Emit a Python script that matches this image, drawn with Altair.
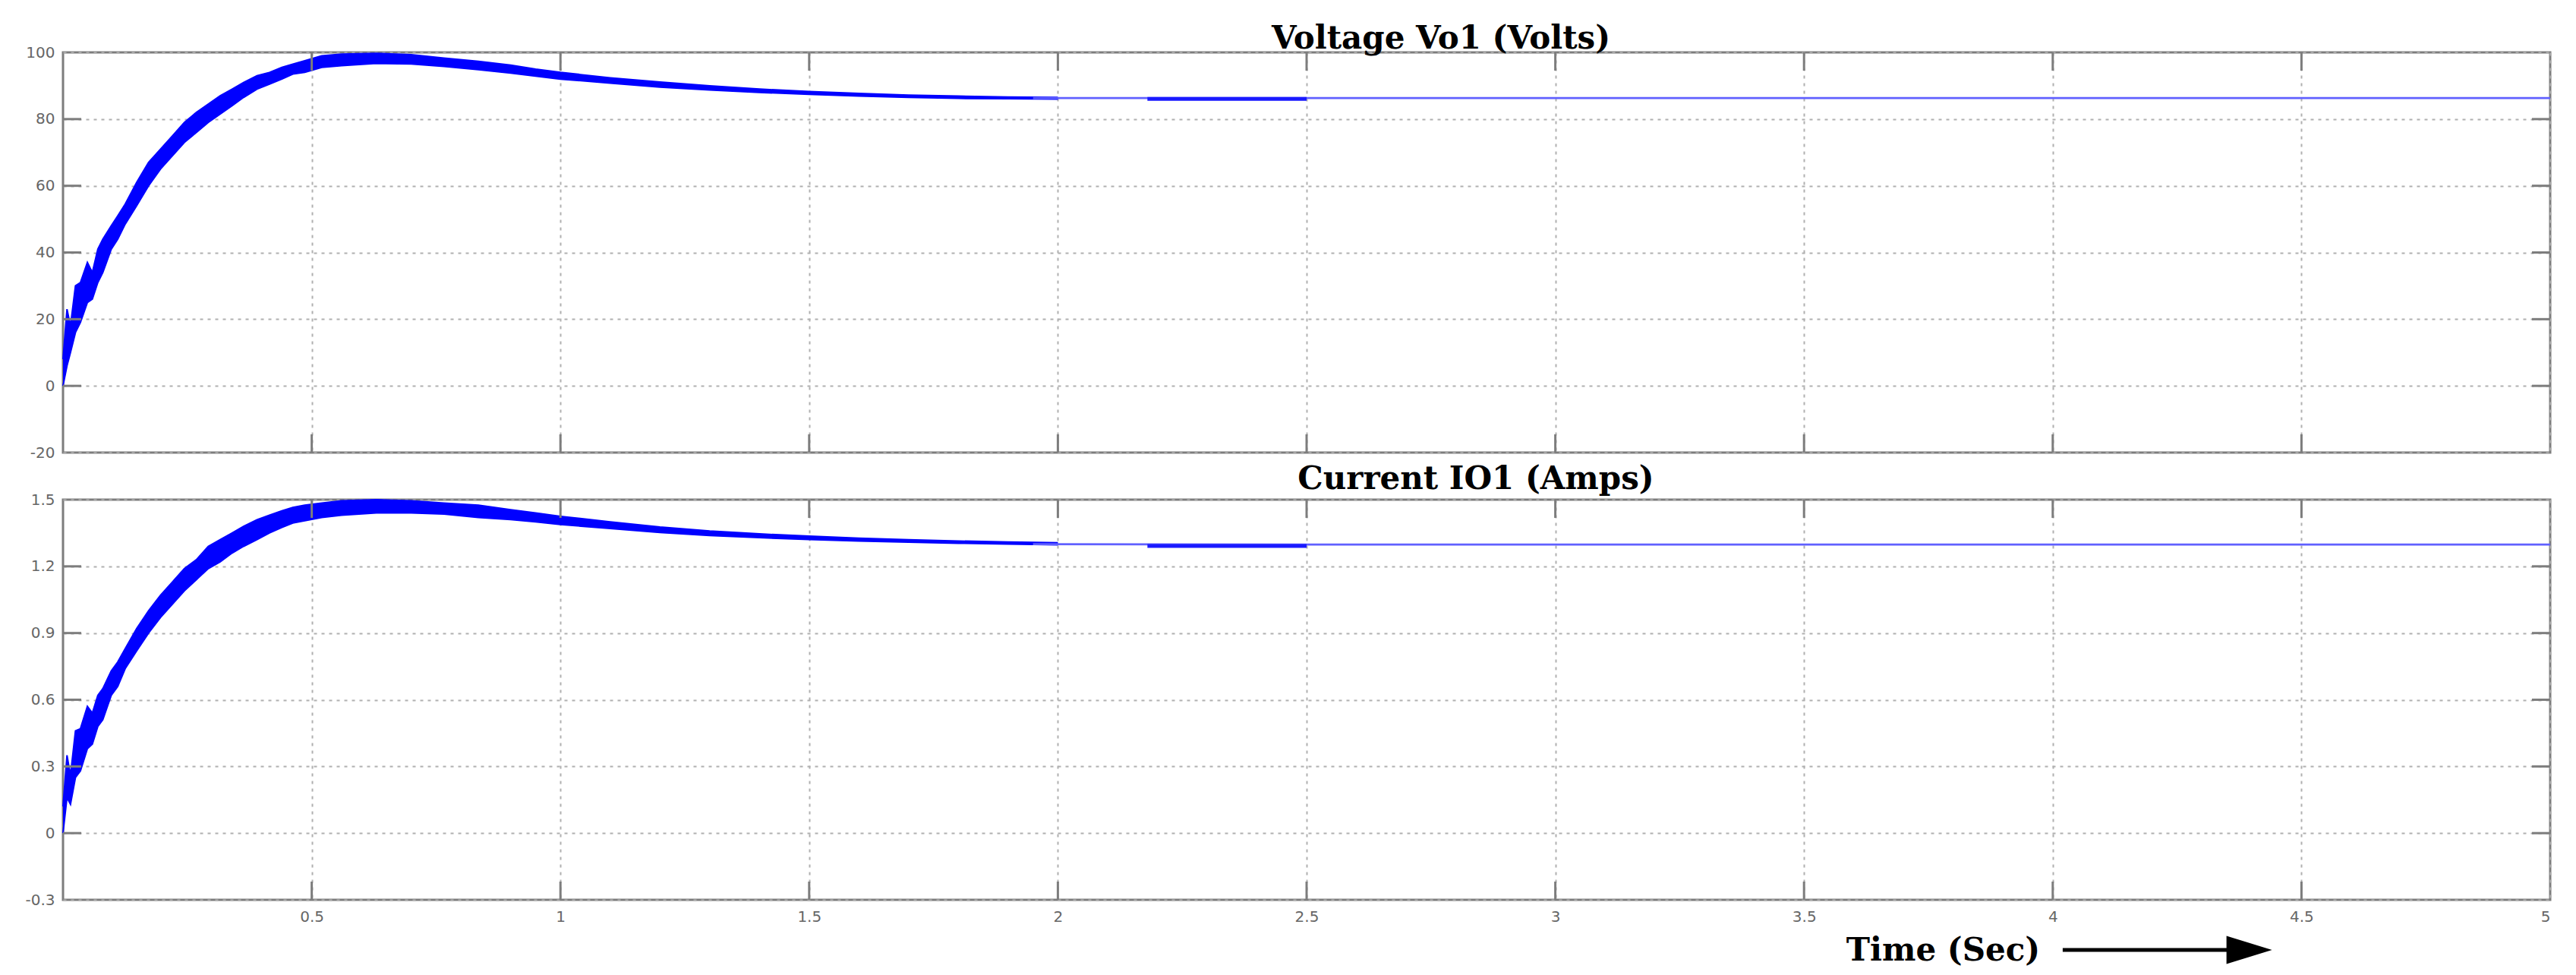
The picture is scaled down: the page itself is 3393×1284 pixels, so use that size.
import altair as alt
import pandas as pd

# ---------------- data ----------------
title_v = "Voltage Vo1 (Volts)"
title_i = "Current IO1 (Amps)"
x_title = "Time (Sec)"

# envelope of the rippled waveform (time in s)
t_band = [0.000, 0.008, 0.015, 0.025, 0.035, 0.049, 0.059, 0.070, 0.080, 0.097,
          0.110, 0.125, 0.148, 0.172, 0.196, 0.220, 0.244, 0.268, 0.292, 0.316,
          0.340, 0.363, 0.390, 0.415, 0.440, 0.462, 0.486, 0.520, 0.560, 0.630,
          0.700, 0.766, 0.835, 0.900, 0.950, 1.000, 1.100, 1.200, 1.300, 1.400,
          1.500, 1.600, 1.700, 1.800, 1.900, 2.000]
v_lo = [0, 6, 10, 16, 19, 25, 26, 31, 34, 41,
        44, 48.5, 54, 60, 65, 69, 73, 76, 79, 81.5,
        84, 86.5, 89, 90.5, 92, 93.5, 94, 95.5, 96, 96.7,
        96.5, 95.8, 94.8, 93.8, 92.9, 92.0, 90.8, 89.6, 88.7, 88.0,
        87.4, 86.9, 86.5, 86.2, 86.1, 86.0]
v_hi = [8, 23, 18, 30, 31, 37, 34, 41, 44, 48,
        51, 54.5, 61, 67, 71, 75, 79, 82, 84.5, 87,
        89, 91, 93, 94, 95.5, 96.5, 97.5, 99, 99.5, 99.7,
        99.3, 98.3, 97.3, 96.2, 95, 94, 92.4, 91.1, 90.0, 89.0,
        88.3, 87.7, 87.2, 86.9, 86.6, 86.5]
i_lo = [0.00, 0.16, 0.13, 0.25, 0.28, 0.38, 0.40, 0.48, 0.51, 0.62,
        0.66, 0.74, 0.82, 0.90, 0.97, 1.03, 1.09, 1.14, 1.19, 1.22,
        1.26, 1.29, 1.32, 1.35, 1.375, 1.395, 1.405, 1.42, 1.43, 1.44,
        1.44, 1.435, 1.42, 1.41, 1.40, 1.388, 1.370, 1.352, 1.339, 1.329,
        1.321, 1.314, 1.309, 1.304, 1.300, 1.297]
i_hi = [0.12, 0.35, 0.26, 0.46, 0.47, 0.57, 0.54, 0.62, 0.65, 0.73,
        0.77, 0.83, 0.92, 1.00, 1.07, 1.13, 1.19, 1.23, 1.29, 1.32,
        1.35, 1.38, 1.41, 1.43, 1.45, 1.465, 1.475, 1.485, 1.495, 1.50,
        1.495, 1.485, 1.475, 1.455, 1.44, 1.425, 1.40, 1.377, 1.359, 1.346,
        1.336, 1.327, 1.320, 1.314, 1.310, 1.306]

# steady state
t_steady = [1.95, 2.5, 3.0, 3.5, 4.0, 4.5, 5.0]
v_steady = [86.3, 86.3, 86.3, 86.3, 86.3, 86.3, 86.3]
i_steady = [1.300, 1.298, 1.298, 1.298, 1.298, 1.298, 1.298]

# slightly thicker stretch seen around 2.2-2.5 s
t_blip = [2.18, 2.50]
v_blip = [86.05, 86.05]
i_blip = [1.292, 1.292]

x_ticks = [0.5, 1, 1.5, 2, 2.5, 3, 3.5, 4, 4.5, 5]
v_ticks = [-20, 0, 20, 40, 60, 80, 100]
i_ticks = [-0.3, 0, 0.3, 0.6, 0.9, 1.2, 1.5]

# ---------------- layout ----------------
W, H = 3276, 527
TICK = 24
BLUE = "#0000ff"
THIN = "#6060ff"
GRID = "#b0b0b0"
FRAME = "#7d7d7d"
LABEL_FONT = "DejaVu Sans"
SERIF = "DejaVu Serif"


def panel(title, title_dx, title_offset, lo, hi, steady, blip, yticks, ydomain,
          ylabel_expr, bottom):
    xscale = alt.Scale(domain=[0, 5], nice=False, zero=False)
    yscale = alt.Scale(domain=ydomain, nice=False, zero=False)

    xaxis_kw = dict(values=x_ticks, grid=True, gridDash=[4, 6], gridColor=GRID,
                    gridWidth=2, gridOpacity=1, ticks=False, domain=False,
                    labels=bottom, format="~g", labelFont=LABEL_FONT,
                    labelFontSize=20, labelColor="#666666", labelPadding=12)
    if bottom:
        xaxis_kw.update(title=x_title, titleFont=SERIF, titleFontSize=42,
                        titleFontWeight="bold", titleColor="black",
                        titleX=2476, titleY=66, titleAlign="center",
                        titleBaseline="middle")
    else:
        xaxis_kw.update(title=None, minExtent=0, maxExtent=0)
    xaxis = alt.Axis(**xaxis_kw)
    yaxis = alt.Axis(values=yticks, grid=True, gridDash=[4, 6], gridColor=GRID,
                     gridWidth=2, gridOpacity=1, ticks=False, domain=False,
                     labelExpr=ylabel_expr, labelFont=LABEL_FONT,
                     labelFontSize=20, labelColor="#666666", labelPadding=11,
                     title=None, minExtent=73, maxExtent=73)

    def X(field):
        return alt.X(field, scale=xscale, axis=xaxis)

    def Y(field):
        return alt.Y(field, scale=yscale, axis=yaxis)

    band_df = pd.DataFrame({"t": t_band, "lo": lo, "hi": hi})
    steady_df = pd.DataFrame({"t": t_steady, "y": steady})
    blip_df = pd.DataFrame({"t": t_blip, "y": blip})
    ytick_df = pd.DataFrame({"v": yticks[1:-1]})
    xtick_df = pd.DataFrame({"t": x_ticks[:-1]})

    band = alt.Chart(band_df).mark_area(color=BLUE, opacity=1).encode(
        x=X("t:Q"), y=Y("lo:Q"), y2="hi:Q")
    band_edge_lo = alt.Chart(band_df).mark_line(color=BLUE, strokeWidth=2).encode(
        x=X("t:Q"), y=Y("lo:Q"))
    band_edge_hi = alt.Chart(band_df).mark_line(color=BLUE, strokeWidth=2).encode(
        x=X("t:Q"), y=Y("hi:Q"))
    line = alt.Chart(steady_df).mark_line(color=THIN, strokeWidth=2.7).encode(
        x=X("t:Q"), y=Y("y:Q"))
    thick = alt.Chart(blip_df).mark_line(color="#1a1aff", strokeWidth=5).encode(
        x=X("t:Q"), y=Y("y:Q"))
    tk = dict(color=FRAME, strokeWidth=3)
    lt = alt.Chart(ytick_df).mark_rule(**tk).encode(
        y=Y("v:Q"), x=alt.value(0), x2=alt.value(TICK))
    rt = alt.Chart(ytick_df).mark_rule(**tk).encode(
        y=Y("v:Q"), x=alt.value(W - TICK), x2=alt.value(W))
    bt = alt.Chart(xtick_df).mark_rule(**tk).encode(
        x=X("t:Q"), y=alt.value(H - TICK), y2=alt.value(H))
    tt = alt.Chart(xtick_df).mark_rule(**tk).encode(
        x=X("t:Q"), y=alt.value(0), y2=alt.value(TICK))

    layers = [band, band_edge_lo, band_edge_hi, line, thick, lt, rt, bt, tt]
    if bottom:
        arrow_df = pd.DataFrame({"x0": [4.02], "x1": [4.37], "xh": [4.395]})
        arrow_line = alt.Chart(arrow_df).mark_rule(
            color="black", strokeWidth=5).encode(
            x=X("x0:Q"), x2="x1:Q", y=alt.value(H + 66))
        arrow_head = alt.Chart(arrow_df).mark_point(
            shape="M -1 -0.62 L 1 0 L -1 0.62 Z", filled=True, color="black",
            opacity=1, size=3600).encode(
            x=X("xh:Q"), y=alt.value(H + 66))
        layers += [arrow_line, arrow_head]

    return alt.layer(*layers).properties(
        width=W, height=H,
        title=alt.TitleParams(title, font=SERIF, fontSize=42, fontWeight="bold",
                              color="black", anchor="middle", dx=title_dx,
                              offset=title_offset),
    )


v_expr = "datum.value < 0 ? '-' + format(-datum.value, 'd') : format(datum.value, 'd')"
i_expr = ("datum.value == 0 ? '0' : (datum.value < 0 ? '-' + format(-datum.value, '.1f') "
          ": format(datum.value, '.1f'))")

top = panel(title_v, 177, -14, v_lo, v_hi, v_steady, v_blip, v_ticks, [-20, 100],
            v_expr, False)
bot = panel(title_i, 223, -5, i_lo, i_hi, i_steady, i_blip, i_ticks, [-0.3, 1.5],
            i_expr, True)

chart = alt.vconcat(top, bot, spacing=0).properties(
    padding={"left": 0, "top": 20, "right": 0, "bottom": 0}
).configure_view(stroke=FRAME, strokeWidth=3)

chart.save("out.html", embed_options={"renderer": "svg", "actions": False})
